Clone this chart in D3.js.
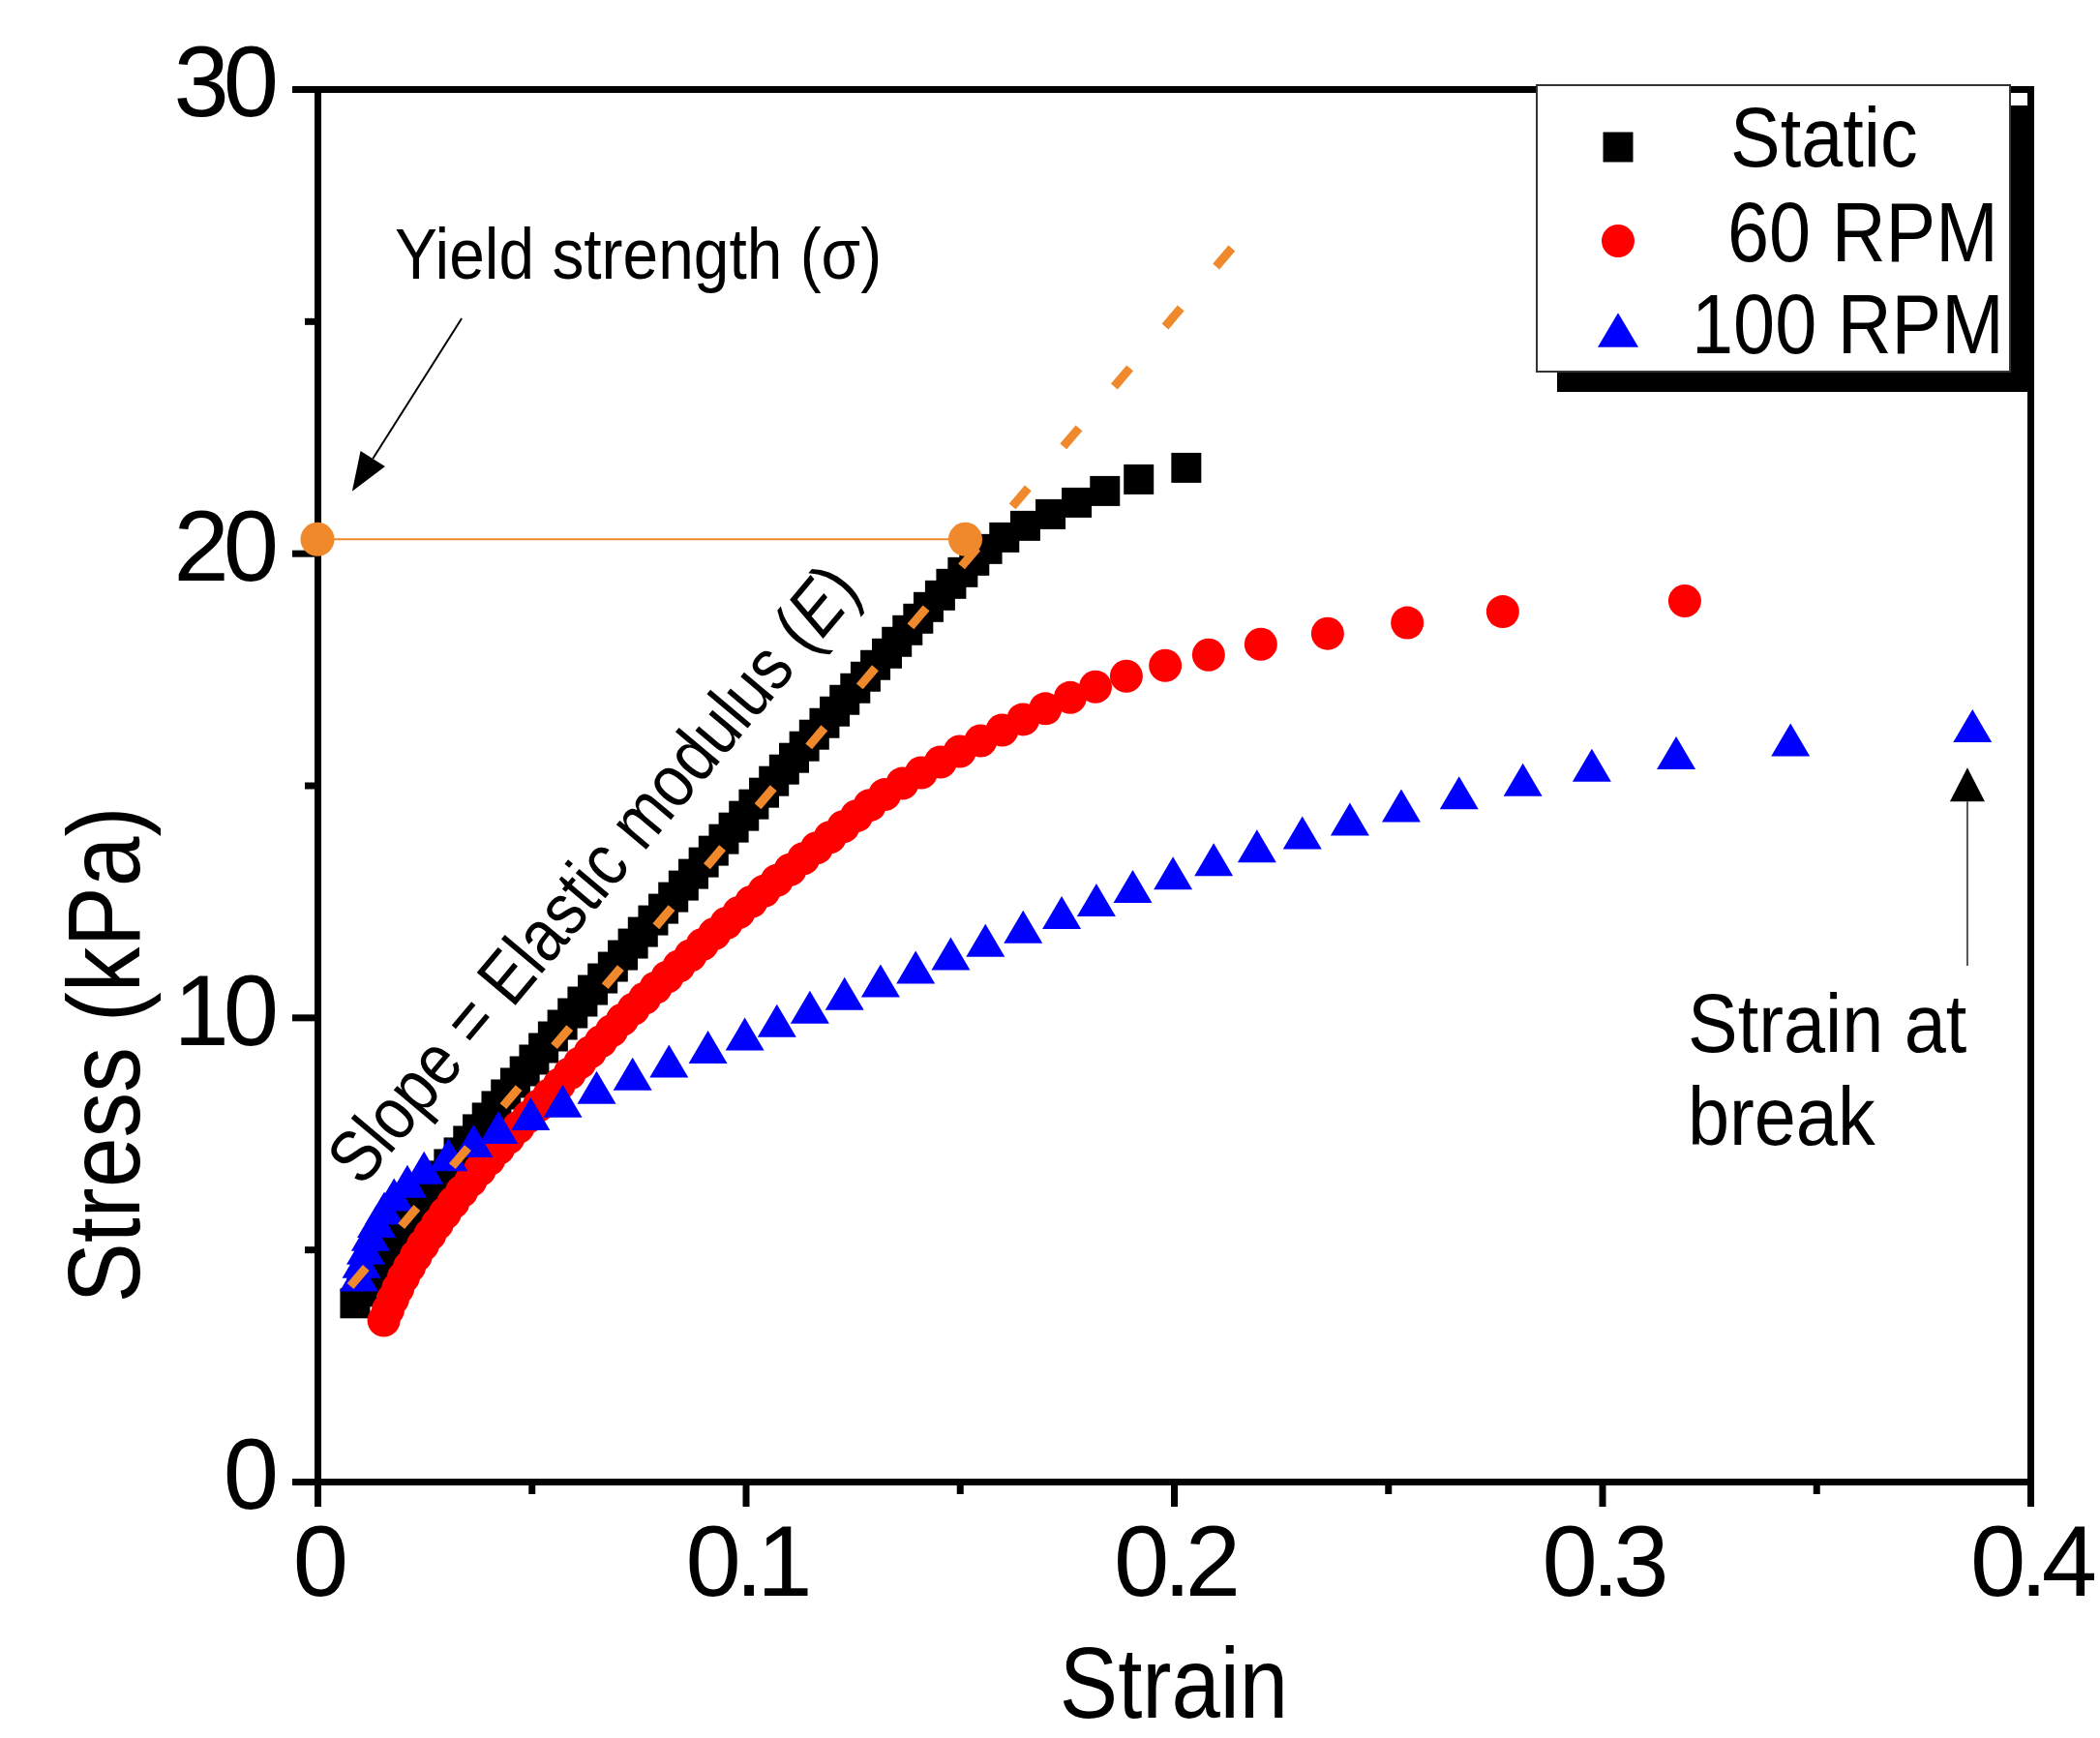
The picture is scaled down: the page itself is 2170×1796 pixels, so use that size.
<!DOCTYPE html>
<html>
<head>
<meta charset="utf-8">
<script src="https://cdn.jsdelivr.net/npm/d3@7"></script>
<style>
  body { margin: 0; background: #fff; }
  svg text { font-family: "Liberation Sans", Arial, sans-serif; fill: #000; }
</style>
</head>
<body>
<svg width="2170" height="1796"></svg>
<script>
// ---- data ----
var staticStress = [3.84, 4.09, 4.34, 4.59, 4.84, 5.09, 5.34, 5.59, 5.84, 6.09, 6.34, 6.59, 6.84, 7.09, 7.34, 7.59, 7.84, 8.09, 8.34, 8.59,
  8.84, 9.09, 9.34, 9.59, 9.84, 10.09, 10.34, 10.59, 10.84, 11.09, 11.34, 11.59, 11.84, 12.09, 12.34, 12.59, 12.84, 13.09, 13.34, 13.59,
  13.84, 14.09, 14.34, 14.59, 14.84, 15.09, 15.34, 15.59, 15.84, 16.09, 16.34, 16.59, 16.84, 17.09, 17.34, 17.59, 17.84, 18.09, 18.34, 18.59,
  18.84, 19.09, 19.34, 19.59, 19.84, 20.09, 20.34, 20.59, 20.84, 21.09, 21.34, 21.59, 21.84];
var staticStrain = [0.0088, 0.0104, 0.0119, 0.0133, 0.0148, 0.0164, 0.0181, 0.0199, 0.0218, 0.0239, 0.0261, 0.0284, 0.0307, 0.0330, 0.0352, 0.0374, 0.0396, 0.0418, 0.0440, 0.0462,
  0.0484, 0.0506, 0.0528, 0.0550, 0.0572, 0.0596, 0.0619, 0.0643, 0.0666, 0.0690, 0.0713, 0.0737, 0.0760, 0.0784, 0.0808, 0.0831, 0.0855, 0.0878, 0.0902, 0.0925,
  0.0949, 0.0972, 0.0996, 0.1019, 0.1043, 0.1066, 0.1090, 0.1113, 0.1137, 0.1160, 0.1184, 0.1208, 0.1231, 0.1256, 0.1280, 0.1303, 0.1330, 0.1353, 0.1378, 0.1403,
  0.1427, 0.1454, 0.1480, 0.1507, 0.1534, 0.1564, 0.1604, 0.1653, 0.1712, 0.1773, 0.1839, 0.1918, 0.2029];

var rpm60Stress = [3.47, 3.70, 3.93, 4.16, 4.40, 4.63, 4.86, 5.09, 5.32, 5.55, 5.78, 6.01, 6.25, 6.48, 6.71, 6.94, 7.17, 7.40, 7.63, 7.86,
  8.10, 8.33, 8.56, 8.79, 9.02, 9.25, 9.48, 9.71, 9.95, 10.18, 10.41, 10.64, 10.87, 11.10, 11.33, 11.57, 11.80, 12.03, 12.26, 12.49,
  12.72, 12.95, 13.18, 13.42, 13.65, 13.88, 14.11, 14.34, 14.57, 14.80, 15.04, 15.27, 15.50, 15.73, 15.96, 16.19, 16.42, 16.65, 16.89, 17.12,
  17.35, 17.58, 17.81, 18.04, 18.27, 18.50, 18.74, 18.97];
var rpm60Strain = [0.0155, 0.0165, 0.0176, 0.0188, 0.0201, 0.0215, 0.0230, 0.0246, 0.0263, 0.0280, 0.0298, 0.0317, 0.0337, 0.0358, 0.0379, 0.0401, 0.0423, 0.0446, 0.0469, 0.0493,
  0.0517, 0.0541, 0.0565, 0.0589, 0.0613, 0.0637, 0.0662, 0.0687, 0.0712, 0.0738, 0.0764, 0.0790, 0.0817, 0.0844, 0.0871, 0.0899, 0.0927, 0.0955, 0.0984, 0.1013,
  0.1043, 0.1073, 0.1104, 0.1135, 0.1166, 0.1197, 0.1228, 0.1259, 0.1290, 0.1325, 0.1366, 0.1410, 0.1455, 0.1500, 0.1549, 0.1599, 0.1648, 0.1700, 0.1758, 0.1817,
  0.1889, 0.1980, 0.2081, 0.2203, 0.2359, 0.2545, 0.2768, 0.3193];

var rpm100Stress = [4.45, 4.74, 5.03, 5.32, 5.61, 5.89, 6.18, 6.47, 6.76, 7.04, 7.34, 7.63, 7.92, 8.20, 8.49, 8.78, 9.06, 9.36, 9.64, 9.93,
  10.22, 10.51, 10.79, 11.08, 11.37, 11.66, 11.95, 12.26, 12.53, 12.82, 13.11, 13.40, 13.69, 13.98, 14.27, 14.56, 14.84, 15.12, 15.43, 15.70,
  15.98, 16.28];
var rpm100Strain = [0.0097, 0.0103, 0.0113, 0.0124, 0.0138, 0.0156, 0.0179, 0.0210, 0.0249, 0.0306, 0.0365, 0.0423, 0.0498, 0.0573, 0.0652, 0.0736, 0.0821, 0.0912, 0.0998, 0.1073,
  0.1150, 0.1231, 0.1315, 0.1397, 0.1479, 0.1560, 0.1648, 0.1738, 0.1819, 0.1904, 0.1998, 0.2093, 0.2194, 0.2300, 0.2411, 0.2531, 0.2666, 0.2815, 0.2976, 0.3173,
  0.3440, 0.3865];

var seriesNames = ["Static", "60 RPM", "100 RPM"];
var xTicks = [0, 0.1, 0.2, 0.3, 0.4], xMinor = [0.05, 0.15, 0.25, 0.35];
var yTicks = [0, 10, 20, 30], yMinor = [5, 15, 25];

// elastic fit line and yield point
var elasticFit = [[0.0077, 4.21], [0.2136, 26.58]];
var yieldPoint = [0.1513, 20.3];
// annotation anchors (strain, stress)
var yieldArrow = [[0.0337, 25.06], [0.0081, 21.33]];
var breakArrow = [[0.3853, 11.11], [0.3853, 15.38]];
var yieldLabelAt = [0.0181, 25.91], slopeLabelAt = [0.0104, 6.32], breakLabelAt = [0.3200, 9.26];

var orange = "#f0882c";

var svg = d3.select("svg");
var x = d3.scaleLinear().domain([0, 0.4]).range([328, 2098]),
    y = d3.scaleLinear().domain([0, 30]).range([1531, 92]);

function condense(sel, k) {
  sel.each(function() {
    var L = this.getComputedTextLength();
    d3.select(this).attr("textLength", L * k).attr("lengthAdjust", "spacingAndGlyphs");
  });
}

function styleAxis(g) {
  g.attr("font-family", "Liberation Sans, Arial, sans-serif").attr("font-size", 103);
  g.select(".domain").attr("stroke-width", 7).attr("stroke-linecap", "square");
  g.selectAll(".tick line").attr("stroke-width", 7);
  g.selectAll(".tick text").attr("letter-spacing", -6);
}

// frame (top/right)
svg.append("g").attr("transform", "translate(0," + y(30) + ")")
  .call(d3.axisTop(x).tickValues([]).tickSizeOuter(0)).call(styleAxis);
svg.append("g").attr("transform", "translate(" + x(0.4) + ",0)")
  .call(d3.axisRight(y).tickValues([]).tickSizeOuter(0)).call(styleAxis);

// minor ticks
svg.append("g").attr("transform", "translate(0," + y(0) + ")")
  .call(d3.axisBottom(x).tickValues(xMinor).tickSize(13).tickSizeOuter(0).tickFormat(""))
  .call(styleAxis);
svg.append("g").attr("transform", "translate(" + x(0) + ",0)")
  .call(d3.axisLeft(y).tickValues(yMinor).tickSize(13).tickSizeOuter(0).tickFormat(""))
  .call(styleAxis);

// main axes
svg.append("g").attr("transform", "translate(0," + y(0) + ")")
  .call(d3.axisBottom(x).tickValues(xTicks).tickSize(26).tickSizeOuter(0).tickPadding(19).tickFormat(String))
  .call(styleAxis);
var gy = svg.append("g").attr("transform", "translate(" + x(0) + ",0)")
  .call(d3.axisLeft(y).tickValues(yTicks).tickSize(26).tickSizeOuter(0).tickPadding(20))
  .call(styleAxis);
gy.selectAll(".tick text").attr("dy", "0.27em");

// markers
var triUp = {
  draw: function(ctx, w) {
    var h = w * 0.85;
    ctx.moveTo(0, -h / 2); ctx.lineTo(w / 2, h / 2); ctx.lineTo(-w / 2, h / 2); ctx.closePath();
  }
};
var symSquare = d3.symbol().type(d3.symbolSquare).size(961),
    symCircle = d3.symbol().type(d3.symbolCircle).size(Math.PI * 17 * 17),
    symTri = d3.symbol().type(triUp).size(40);

svg.append("g").selectAll("path")
  .data(d3.zip(staticStrain, staticStress))
  .enter().append("path")
  .attr("transform", function(d) { return "translate(" + x(d[0]) + "," + y(d[1]) + ")"; })
  .attr("d", symSquare).attr("fill", "#000");

svg.append("g").selectAll("path")
  .data(d3.zip(rpm60Strain, rpm60Stress))
  .enter().append("path")
  .attr("transform", function(d) { return "translate(" + x(d[0]) + "," + y(d[1]) + ")"; })
  .attr("d", symCircle).attr("fill", "#ff0000");

svg.append("g").selectAll("path")
  .data(d3.zip(rpm100Strain, rpm100Stress))
  .enter().append("path")
  .attr("transform", function(d) { return "translate(" + x(d[0]) + "," + y(d[1]) + ")"; })
  .attr("d", symTri).attr("fill", "#0000ff");

// elastic modulus fit (dashed) and yield marker
var line = d3.line().x(function(d) { return x(d[0]); }).y(function(d) { return y(d[1]); });
svg.append("path").attr("d", line(elasticFit))
  .attr("fill", "none").attr("stroke", orange).attr("stroke-width", 9).attr("stroke-dasharray", "25 56.3");

svg.append("path").attr("d", line([[0, yieldPoint[1]], yieldPoint]))
  .attr("fill", "none").attr("stroke", orange).attr("stroke-width", 2);
svg.append("g").selectAll("circle")
  .data([[0, yieldPoint[1]], yieldPoint])
  .enter().append("circle")
  .attr("cx", function(d) { return x(d[0]); }).attr("cy", function(d) { return y(d[1]); })
  .attr("r", 17.5).attr("fill", orange);

// arrows
function arrow(pts, len, hw, color, width) {
  var x1 = x(pts[0][0]), y1 = y(pts[0][1]), x2 = x(pts[1][0]), y2 = y(pts[1][1]);
  var dx = x2 - x1, dy = y2 - y1, L = Math.sqrt(dx * dx + dy * dy), ux = dx / L, uy = dy / L;
  var bx = x2 - ux * len, by = y2 - uy * len;
  svg.append("line").attr("x1", x1).attr("y1", y1).attr("x2", bx).attr("y2", by)
    .attr("stroke", color).attr("stroke-width", width);
  svg.append("path")
    .attr("d", "M" + x2 + "," + y2 + "L" + (bx - uy * hw) + "," + (by + ux * hw) + "L" + (bx + uy * hw) + "," + (by - ux * hw) + "Z")
    .attr("fill", "#000");
}
arrow(yieldArrow, 40, 15, "#000", 2);
arrow(breakArrow, 35, 18, "#555", 2);

// annotations
var t1 = svg.append("text")
  .attr("x", x(yieldLabelAt[0])).attr("y", y(yieldLabelAt[1]))
  .attr("font-size", 74).text("Yield strength (\u03c3)");
condense(t1, 0.89);

var t2 = svg.append("text")
  .attr("transform", "translate(" + x(slopeLabelAt[0]) + "," + y(slopeLabelAt[1]) + ") rotate(-50)")
  .attr("font-size", 76);
t2.append("tspan").text("Slope = Elastic modulus (");
t2.append("tspan").attr("font-style", "italic").text("E");
t2.append("tspan").text(")");
condense(t2, 0.86);

var t3 = svg.append("text").attr("x", x(breakLabelAt[0])).attr("y", y(breakLabelAt[1]))
  .attr("font-size", 86).text("Strain at");
var t4 = svg.append("text").attr("x", x(breakLabelAt[0])).attr("y", y(breakLabelAt[1]) + 96)
  .attr("font-size", 86).text("break");
condense(t3, 0.9); condense(t4, 0.9);

// axis titles
var xt = svg.append("text").attr("x", (x(0) + x(0.4)) / 2).attr("y", 1775)
  .attr("text-anchor", "middle").attr("font-size", 104).text("Strain");
condense(xt, 0.87);
var yt = svg.append("text").attr("transform", "translate(144,1090) rotate(-90)")
  .attr("text-anchor", "middle").attr("font-size", 106).text("Stress (kPa)");
condense(yt, 0.88);

// legend
var lg = svg.append("g");
lg.append("rect").attr("x", 1609).attr("y", 109).attr("width", 490).attr("height", 296).attr("fill", "#000");
lg.append("rect").attr("x", 1588).attr("y", 88).attr("width", 489).attr("height", 296)
  .attr("fill", "#fff").attr("stroke", "#333").attr("stroke-width", 2);
var legSyms = [symSquare, symCircle, symTri], legColors = ["#000", "#ff0000", "#0000ff"];
var legSymY = [152, 249, 341], legTextX = [1788, 1785, 1748], legBase = [172, 270, 365];
lg.selectAll(".lsym").data(seriesNames).enter().append("path").attr("class", "lsym")
  .attr("transform", function(d, i) { return "translate(1672," + legSymY[i] + ")" + (i === 2 ? " scale(1.05)" : ""); })
  .attr("d", function(d, i) { return legSyms[i](); })
  .attr("fill", function(d, i) { return legColors[i]; });
var lt = lg.selectAll(".ltxt").data(seriesNames).enter().append("text").attr("class", "ltxt")
  .attr("x", function(d, i) { return legTextX[i]; }).attr("y", function(d, i) { return legBase[i]; })
  .attr("font-size", 87).text(function(d) { return d; });
condense(lt, 0.89);
</script>
</body>
</html>
